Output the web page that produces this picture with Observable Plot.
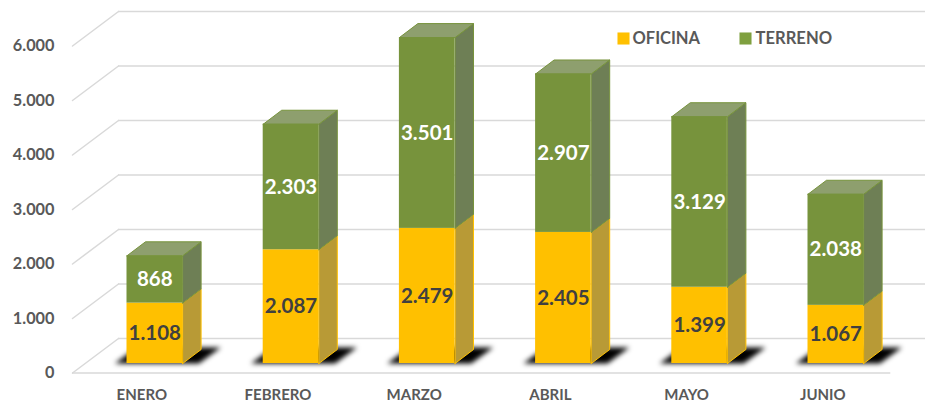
<!DOCTYPE html>
<html>
<head>
<meta charset="utf-8">
<script src="https://cdn.jsdelivr.net/npm/d3@7"></script>
<script src="https://cdn.jsdelivr.net/npm/@observablehq/plot@0.6"></script>
<style>
html,body{margin:0;padding:0;background:#fff;}
svg{display:block;}
.shadow{filter:blur(2.8px);}
</style>
</head>
<body>
<div id="chart"></div>
<script>
const meses = ["ENERO","FEBRERO","MARZO","ABRIL","MAYO","JUNIO"];
const oficina = [1108,2087,2479,2405,1399,1067];
const terreno = [868,2303,3501,2907,3129,2038];
const ticks = [0,1000,2000,3000,4000,5000,6000];

const W = 925, H = 405;
const pxPerCat = 136.2, pxPerUnit = 0.0545;
const x0Px = 154.3, y0Px = 363;
const xDomain = [-x0Px/pxPerCat, (W-x0Px)/pxPerCat];
const yDomain = [-(H-y0Px)/pxPerUnit, y0Px/pxPerUnit];
// layout in data units
const halfW = 27.8/pxPerCat, depthX = 18.5/pxPerCat, depthY = 14/pxPerUnit;
const floorFront = -9.5/pxPerUnit, floorBack = 25/pxPerUnit;
const wallLeft = -82.3/pxPerCat, wallBack = -36.3/pxPerCat, floorRight = 736/pxPerCat;
const fmt = d3.formatLocale({decimal:",",thousands:".",grouping:[3],currency:["",""]}).format(",d");

const segs = [];
meses.forEach((m,i)=>{
  segs.push({i,serie:"OFICINA",lo:0,hi:oficina[i],v:oficina[i]});
  segs.push({i,serie:"TERRENO",lo:oficina[i],hi:oficina[i]+terreno[i],v:terreno[i]});
});
const poly = (id,pts)=>[...pts,pts[0]].map(([x,y])=>({id,x,y}));
const sideFace = s => poly(`s${s.i}${s.serie}`,[
  [s.i+halfW,s.lo],[s.i+halfW+depthX,s.lo+depthY],[s.i+halfW+depthX,s.hi+depthY],[s.i+halfW,s.hi]]);
const topFace = s => poly(`t${s.i}`,[
  [s.i-halfW,s.hi],[s.i+halfW,s.hi],[s.i+halfW+depthX,s.hi+depthY],[s.i-halfW+depthX,s.hi+depthY]]);
const shadowFace = i => poly(`h${i}`,[
  [i-40/pxPerCat,0],[i+44/pxPerCat,0],[i+66/pxPerCat,16/pxPerUnit],[i-18/pxPerCat,16/pxPerUnit]]);

const of = segs.filter(s=>s.serie==="OFICINA"), te = segs.filter(s=>s.serie==="TERRENO");
const diagonals = ticks.flatMap(t=>[{id:t,x:wallLeft,y:t+floorFront},{id:t,x:wallBack,y:t+floorBack}]);
const font = "Lato, Carlito, sans-serif";

const plot = Plot.plot({
  width:W,height:H,margin:0,
  x:{domain:xDomain,range:[0,W],axis:null},
  y:{domain:yDomain,range:[H,0],axis:null},
  style:{fontFamily:font,background:"#fff"},
  marks:[
    // walls and floor
    Plot.ruleY(ticks,{y:d=>d+floorBack,x1:wallBack,x2:xDomain[1],stroke:"#d9d9d9",strokeWidth:1.5}),
    Plot.line(diagonals,{x:"x",y:"y",z:"id",stroke:"#d9d9d9",strokeWidth:1.5}),
    Plot.ruleY([0],{y:floorFront,x1:wallLeft,x2:floorRight,stroke:"#d9d9d9",strokeWidth:1.5}),
    // floor shadows
    Plot.line(meses.flatMap((m,i)=>shadowFace(i)),{x:"x",y:"y",z:"id",fill:"#000",stroke:"none",className:"shadow"}),
    // bars
    Plot.line(of.flatMap(sideFace),{x:"x",y:"y",z:"id",fill:"#B89A36",stroke:"#FFC000",strokeWidth:1}),
    Plot.line(te.flatMap(sideFace),{x:"x",y:"y",z:"id",fill:"#6E7F55",stroke:"#77933C",strokeWidth:1}),
    Plot.line(te.flatMap(topFace),{x:"x",y:"y",z:"id",fill:"#8E9F6E",stroke:"#77933C",strokeWidth:1}),
    Plot.rect(of,{x1:d=>d.i-halfW,x2:d=>d.i+halfW,y1:"lo",y2:"hi",fill:"#FFC000"}),
    Plot.rect(te,{x1:d=>d.i-halfW,x2:d=>d.i+halfW,y1:"lo",y2:"hi",fill:"#77933C"}),
    // value labels
    Plot.text(of,{x:"i",y:d=>(d.lo+d.hi)/2,text:d=>fmt(d.v),fill:"#404040",fontSize:20.5,fontWeight:700}),
    Plot.text(te,{x:"i",y:d=>(d.lo+d.hi)/2,text:d=>fmt(d.v),fill:"#fff",fontSize:20.5,fontWeight:700}),
    // axis labels
    Plot.text(ticks,{x:wallLeft,dx:-18,y:d=>d+floorFront,text:d=>fmt(d),textAnchor:"end",fill:"#595959",fontSize:16.3,fontWeight:700}),
    Plot.text(meses,{x:(d,i)=>i,dx:-13,y:floorFront,dy:22.5,text:d=>d,fill:"#595959",fontSize:15,fontWeight:700}),
    // legend
    Plot.dot(["OFICINA"],{frameAnchor:"top-left",dx:623,dy:38,symbol:"square",r:6.8,fill:"#FFC000"}),
    Plot.dot(["TERRENO"],{frameAnchor:"top-left",dx:745,dy:38,symbol:"square",r:6.8,fill:"#7FA03F"}),
    Plot.text(["OFICINA"],{frameAnchor:"top-left",dx:632,dy:38,text:d=>d,textAnchor:"start",lineAnchor:"middle",fill:"#595959",fontSize:16.5,fontWeight:700}),
    Plot.text(["TERRENO"],{frameAnchor:"top-left",dx:755,dy:38,text:d=>d,textAnchor:"start",lineAnchor:"middle",fill:"#595959",fontSize:16.6,fontWeight:700})
  ]
});
document.getElementById("chart").append(plot);
</script>
</body>
</html>
